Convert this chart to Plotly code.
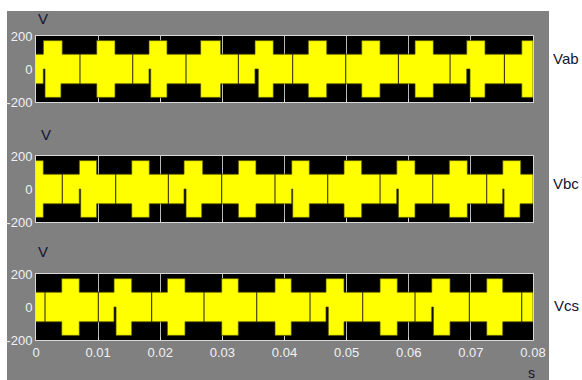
import plotly.graph_objects as go

# ---------------- data ----------------
T_END = 0.08
LEVEL_HIGH = 172      # V, outer switching level
LEVEL_MID = 90        # V, inner switching level

# Vab
vab_top_start = [0.00118, 0.00977, 0.01819, 0.02650, 0.03525, 0.04383, 0.05243, 0.06101, 0.06933, 0.07819]
vab_top_end   = [0.00423, 0.01272, 0.02109, 0.02973, 0.03820, 0.04680, 0.05538, 0.06396, 0.07228, 0.08000]
vab_bot_start = [0.00145, 0.00977, 0.01846, 0.02650, 0.03578, 0.04383, 0.05243, 0.06101, 0.06986, 0.07819]
vab_bot_end   = [0.00402, 0.01272, 0.02109, 0.02973, 0.03820, 0.04680, 0.05538, 0.06396, 0.07228, 0.08000]
vab_gaps      = [0.00708, 0.01557, 0.02415, 0.03257, 0.04132, 0.04986, 0.05833, 0.06665, 0.07539]

# Vbc
vbc_top_start = [0.00000, 0.00697, 0.01541, 0.02383, 0.03257, 0.04116, 0.04958, 0.05807, 0.06653, 0.07513]
vbc_top_end   = [0.00118, 0.00977, 0.01824, 0.02684, 0.03541, 0.04400, 0.05243, 0.06101, 0.06943, 0.07803]
vbc_bot_start = [0.00000, 0.00719, 0.01541, 0.02415, 0.03257, 0.04132, 0.04958, 0.05833, 0.06653, 0.07534]
vbc_bot_end   = [0.00118, 0.00977, 0.01824, 0.02668, 0.03541, 0.04400, 0.05243, 0.06101, 0.06943, 0.07791]
vbc_gaps      = [0.00423, 0.01283, 0.02130, 0.02989, 0.03847, 0.04696, 0.05538, 0.06386, 0.07255]

# Vcs
vcs_top_start = [0.00414, 0.01256, 0.02114, 0.02989, 0.03847, 0.04668, 0.05538, 0.06370, 0.07255]
vcs_top_end   = [0.00697, 0.01541, 0.02399, 0.03257, 0.04110, 0.04958, 0.05816, 0.06665, 0.07513]
vcs_bot_start = [0.00414, 0.01288, 0.02114, 0.02989, 0.03847, 0.04705, 0.05538, 0.06397, 0.07255]
vcs_bot_end   = [0.00697, 0.01541, 0.02399, 0.03257, 0.04110, 0.04958, 0.05816, 0.06665, 0.07513]
vcs_gaps      = [0.00145, 0.01003, 0.01862, 0.02704, 0.03553, 0.04411, 0.05259, 0.06101, 0.06975, 0.07819]

panel_names = ["Vab", "Vbc", "Vcs"]
x_tick_vals = [0, 0.01, 0.02, 0.03, 0.04, 0.05, 0.06, 0.07, 0.08]
x_tick_text = ["0", "0.01", "0.02", "0.03", "0.04", "0.05", "0.06", "0.07", "0.08"]
y_tick_vals = [-200, 0, 200]
y_tick_text = ["-200", "0", "200"]

panels = [
    (vab_top_start, vab_top_end, vab_bot_start, vab_bot_end, vab_gaps),
    (vbc_top_start, vbc_top_end, vbc_bot_start, vbc_bot_end, vbc_gaps),
    (vcs_top_start, vcs_top_end, vcs_bot_start, vcs_bot_end, vcs_gaps),
]

# ---------------- helpers ----------------
W, H = 582, 380
def px_x(x):
    return x / W
def px_y(y):
    return 1 - y / H

def envelope(ts, te, bs, be):
    bounds = sorted(set([0.0, T_END] + ts + te + bs + be))
    segs = []
    for a, b in zip(bounds[:-1], bounds[1:]):
        m = 0.5 * (a + b)
        up = LEVEL_HIGH if any(s <= m < e for s, e in zip(ts, te)) else LEVEL_MID
        if any(s <= m < e for s, e in zip(bs, be)):
            lo = -LEVEL_HIGH
        elif any(s <= m < e for s, e in zip(ts, bs)):
            lo = 0
        else:
            lo = -LEVEL_MID
        segs.append((a, b, up, lo))
    xs, ys = [], []
    for a, b, up, lo in segs:
        xs += [a, b]
        ys += [up, up]
    for a, b, up, lo in reversed(segs):
        xs += [b, a]
        ys += [lo, lo]
    return xs, ys

FONT = "Liberation Sans Narrow, Arial Narrow, Liberation Sans, Arial"
frames = [(36, 102), (156, 222), (274, 340)]

fig = go.Figure()
for i, (ts, te, bs, be, gaps) in enumerate(panels):
    sfx = "" if i == 0 else str(i + 1)
    xs, ys = envelope(ts, te, bs, be)
    fig.add_trace(go.Scatter(
        x=xs, y=ys, mode="lines", fill="toself",
        fillcolor="#ffff00", line=dict(color="rgba(70,70,0,0.9)", width=0.8),
        xaxis="x" + sfx, yaxis="y" + sfx, hoverinfo="skip", showlegend=False))
    gx, gy = [], []
    for g in gaps:
        gx += [g, g, None]
        gy += [-LEVEL_MID, LEVEL_MID, None]
    fig.add_trace(go.Scatter(
        x=gx, y=gy, mode="lines", line=dict(color="#202000", width=1),
        xaxis="x" + sfx, yaxis="y" + sfx, hoverinfo="skip", showlegend=False))

    top, bot = frames[i]
    fig.layout["xaxis" + sfx] = dict(
        domain=[px_x(36), px_x(533)], anchor="y" + sfx, range=[0, T_END],
        tickvals=x_tick_vals, ticktext=x_tick_text,
        showticklabels=(i == 2), showgrid=True, gridcolor="#b8b8b8", gridwidth=1,
        zeroline=False, showline=True, linecolor="#d8d8d8", linewidth=1, mirror=True,
        ticks="inside", ticklen=3, tickcolor="#d8d8d8", automargin=False,
        tickfont=dict(family=FONT, size=13, color="#f2f2f2"), layer="below traces")
    fig.layout["yaxis" + sfx] = dict(
        domain=[px_y(bot), px_y(top)], anchor="x" + sfx, range=[-200, 200],
        tickvals=y_tick_vals, ticktext=y_tick_text, showgrid=False, zeroline=False,
        showline=True, linecolor="#d8d8d8", linewidth=1, mirror=True, automargin=False,
        ticks="", tickfont=dict(family=FONT, size=13, color="#f2f2f2"))

# V labels, signal names, time unit
annos = []
v_pos = [(43, 18), (46, 134), (43, 252)]
for (vx, vy) in v_pos:
    annos.append(dict(x=px_x(vx), y=px_y(vy), xref="paper", yref="paper", text="V",
                      showarrow=False, font=dict(family=FONT, size=15, color="#141432"),
                      xanchor="center", yanchor="middle"))
name_pos = [(581, 58), (581, 183), (581, 305)]
for name, (nx, ny) in zip(panel_names, name_pos):
    annos.append(dict(x=px_x(nx), y=px_y(ny), xref="paper", yref="paper", text=name,
                      showarrow=False, font=dict(family=FONT, size=15, color="#141432"),
                      xanchor="right", yanchor="middle"))
annos.append(dict(x=px_x(531), y=px_y(373), xref="paper", yref="paper", text="s",
                  showarrow=False, font=dict(family=FONT, size=14, color="#141432"),
                  xanchor="center", yanchor="middle"))

white = dict(type="rect", xref="paper", yref="paper", fillcolor="white",
             line=dict(width=0), layer="below")
fig.update_layout(
    width=W, height=H, margin=dict(l=0, r=0, t=0, b=0, pad=0, autoexpand=False),
    paper_bgcolor="#808080", plot_bgcolor="black",
    annotations=annos,
    shapes=[
        dict(white, x0=px_x(549), x1=1, y0=0, y1=1),
        dict(white, x0=0, x1=px_x(7), y0=0, y1=1),
        dict(white, x0=0, x1=1, y0=px_y(11), y1=1),
    ],
)

fig.write_html("out.html")
